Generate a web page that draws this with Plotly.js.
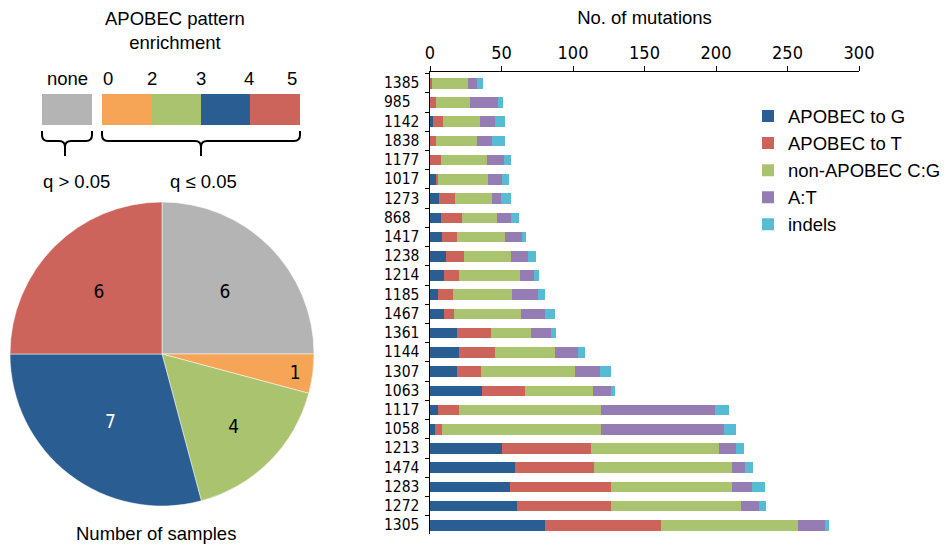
<!DOCTYPE html>
<html>
<head>
<meta charset="utf-8">
<script src="https://cdn.plot.ly/plotly-3.0.1.min.js"></script>
<style>html,body{margin:0;padding:0;background:#fff;}#chart{width:951px;height:550px;}</style>
</head>
<body>
<div id="chart"></div>
<script>
// ---- Data ----
const samples = ['1385','985','1142','1838','1177','1017','1273','868','1417','1238','1214','1185','1467','1361','1144','1307','1063','1117','1058','1213','1474','1283','1272','1305'];
const apobecToG   = [0, 0, 2, 0, 0, 4, 6.5, 8, 8.6, 11, 10, 5.8, 10, 19, 20.5, 19, 36.6, 5.4, 3.5, 50.6, 59.7, 56.2, 61, 80.7];
const apobecToT   = [1.5, 4, 7, 4, 8, 1.6, 11, 14.5, 10.5, 13, 10.5, 10, 7, 23.5, 25, 17, 30, 15, 4.7, 62, 54.8, 70.4, 65.5, 80.8];
const nonApobecCG = [25.3, 23.7, 26, 29, 32, 35, 26, 24.5, 33.3, 32.6, 42.7, 41.7, 46.6, 28, 42, 65.5, 47.6, 99, 111.4, 89.3, 96.5, 84.4, 91.3, 96];
const atMut       = [6.3, 20, 10.3, 10.5, 12, 9.5, 6.3, 9.5, 12.1, 12, 9.8, 18, 17, 13.8, 16, 17.5, 12.6, 80, 85.8, 12, 9.5, 14.2, 12, 19];
const indels      = [3.7, 3.5, 7.2, 9, 4.5, 5.2, 7, 5.6, 2.8, 5.6, 3.5, 5, 7, 3.7, 5, 7.7, 2.8, 9.5, 8.8, 6, 5.6, 9.3, 5.4, 2.3];
const seriesNames = ['APOBEC to G', 'APOBEC to T', 'non-APOBEC C:G', 'A:T', 'indels'];
const seriesColors = ['#2A5D91', '#CC645C', '#A9C36E', '#957DB3', '#56BCD4'];
const xTicks = [0, 50, 100, 150, 200, 250, 300];

const pieLabels = ['none', '0–2', '2–3', '3–4', '4–5'];
const pieValues = [6, 1, 4, 7, 6];
const pieColors = ['#B4B4B4', '#F6A556', '#A9C36E', '#2A5D91', '#CC645C'];
const pieTextColors = ['#000', '#000', '#000', '#fff', '#000'];
const scaleLabels = ['0', '2', '3', '4', '5'];

// ---- helpers (pixel -> paper) ----
const W = 951, H = 550;
const px = x => x / W;
const py = y => 1 - y / H;
const TXT = 'Liberation Sans, Arial, sans-serif';
const NUM = 'Liberation Sans Narrow, Arial Narrow, DejaVu Sans Condensed, sans-serif';

// ---- traces ----
const allSeries = [apobecToG, apobecToT, nonApobecCG, atMut, indels];
const traces = allSeries.map((vals, i) => ({
  type: 'bar', orientation: 'h', name: seriesNames[i],
  y: samples, x: vals, xaxis: 'x', yaxis: 'y',
  marker: { color: seriesColors[i], line: { width: 0 } },
  hoverinfo: 'x+y+name'
}));

traces.push({
  type: 'pie', labels: pieLabels, values: pieValues, sort: false,
  direction: 'clockwise', rotation: 0, showlegend: false,
  marker: { colors: pieColors, line: { color: '#ffffff', width: 0.5 } },
  textinfo: 'value', textposition: 'inside', insidetextorientation: 'horizontal',
  textfont: { family: NUM, size: 19, color: pieTextColors },
  domain: { x: [px(10), px(314)], y: [py(506), py(202)] }
});

// ---- shapes: colour scale legend & braces ----
const shapes = [];
const rect = (x0, x1, y0, y1, c) => ({ type: 'rect', xref: 'paper', yref: 'paper',
  x0: px(x0), x1: px(x1), y0: py(y1), y1: py(y0), fillcolor: c, line: { width: 0 }, layer: 'above' });
shapes.push(rect(42, 92, 94, 125, pieColors[0]));
const segEdges = [102, 152, 201, 250, 300];
for (let i = 0; i < 4; i++) shapes.push(rect(segEdges[i], segEdges[i + 1], 94, 125, pieColors[i + 1]));

function brace(x0, x1, xm) {
  const yT = 131, yL = 141, yTip = 156, r = 6;
  const P = (x, y) => px(x).toFixed(5) + ',' + py(y).toFixed(5);
  const d = 'M' + P(x0, yT) + ' L' + P(x0, yL - r) + ' Q' + P(x0, yL) + ' ' + P(x0 + r, yL) +
    ' L' + P(xm - r, yL) + ' Q' + P(xm, yL) + ' ' + P(xm, yL + r) + ' L' + P(xm, yTip) +
    ' M' + P(xm, yL + r) + ' Q' + P(xm, yL) + ' ' + P(xm + r, yL) +
    ' L' + P(x1 - r, yL) + ' Q' + P(x1, yL) + ' ' + P(x1, yL - r) + ' L' + P(x1, yT);
  return { type: 'path', xref: 'paper', yref: 'paper', path: d, line: { color: '#000', width: 2 }, layer: 'above' };
}
shapes.push(brace(42, 92, 65));
shapes.push(brace(102, 300, 201));

// ---- annotations ----
const annotations = [];
const ann = (x, y, text, opts = {}) => Object.assign({ xref: 'paper', yref: 'paper', x: px(x), y: py(y), text: text,
  showarrow: false, xanchor: 'center', yanchor: 'middle', font: { family: TXT, size: 18.5, color: '#000' } }, opts);
annotations.push(ann(175, 30, 'APOBEC pattern<br>enrichment'));
annotations.push(ann(90, 78, 'none', { xanchor: 'right' }));
const scaleLabelX = [108, 152, 201, 249, 292];
scaleLabels.forEach((t, i) => annotations.push(ann(scaleLabelX[i], 78, t)));
annotations.push(ann(76, 181, 'q &gt; 0.05'));
annotations.push(ann(203, 181, 'q ≤ 0.05'));
annotations.push(ann(156, 533, 'Number of samples'));
// left-aligned sample labels, positioned by category index on the y axis
samples.forEach((s, i) => annotations.push({ xref: 'paper', yref: 'y', x: px(382), y: i, text: s, showarrow: false,
  xanchor: 'left', yanchor: 'middle', font: { family: NUM, size: 15.5, color: '#000' } }));

const layout = {
  width: W, height: H, margin: { l: 0, r: 0, t: 0, b: 0 },
  paper_bgcolor: '#fff', plot_bgcolor: '#fff',
  barmode: 'stack', bargap: 0.45,
  font: { family: TXT, color: '#000' },
  xaxis: {
    domain: [px(430), px(859)], range: [0, 300], side: 'top', tickvals: xTicks,
    ticks: 'outside', ticklen: 5, tickcolor: '#000', showgrid: false, zeroline: false,
    showline: true, linecolor: '#000', linewidth: 1, anchor: 'y',
    tickfont: { family: NUM, size: 18, color: '#000' },
    title: { text: 'No. of mutations', font: { family: TXT, size: 18.5, color: '#000' }, standoff: 12 }
  },
  yaxis: {
    domain: [py(534), py(72.3)], type: 'category', range: [23.45, -0.57],
    showticklabels: false, ticks: 'outside', ticklen: 4, tickcolor: '#000', tickson: 'boundaries',
    showgrid: false, zeroline: false, showline: true, linecolor: '#000', linewidth: 1, anchor: 'x'
  },
  legend: {
    x: px(748), y: py(97.5), xanchor: 'left', yanchor: 'top', traceorder: 'normal',
    bgcolor: 'rgba(0,0,0,0)', font: { family: TXT, size: 18.5, color: '#000' }
  },
  shapes: shapes,
  annotations: annotations
};

Plotly.newPlot('chart', traces, layout, { displayModeBar: false, staticPlot: true });
</script>
</body>
</html>
